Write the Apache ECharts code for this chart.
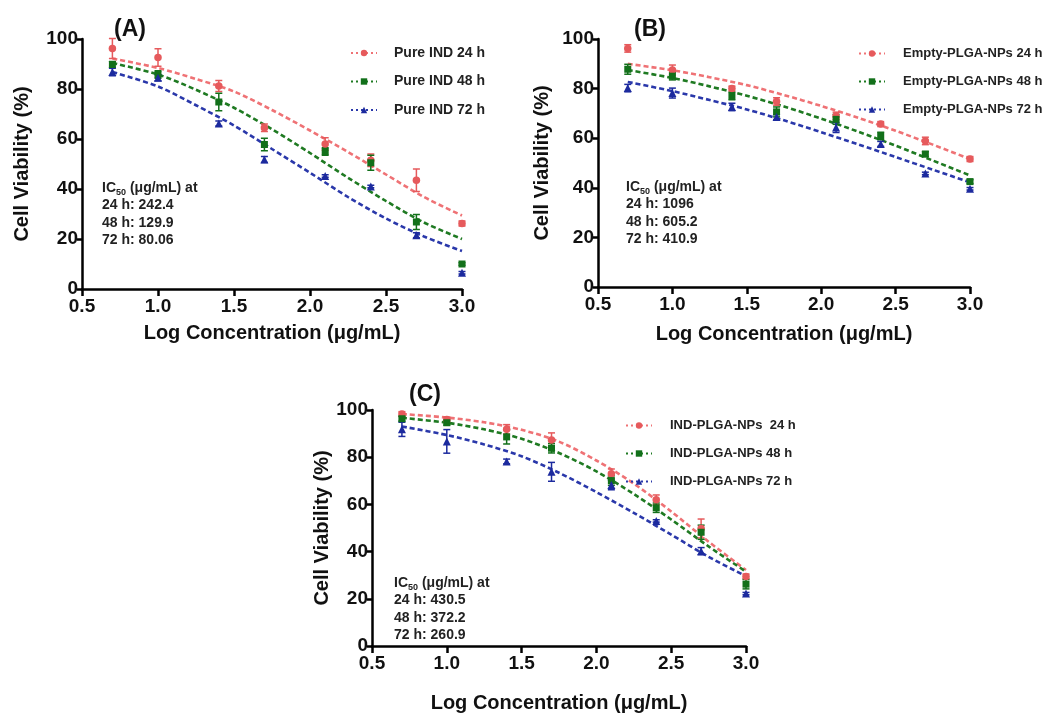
<!DOCTYPE html>
<html>
<head>
<meta charset="utf-8">
<script src="https://cdn.jsdelivr.net/npm/echarts@6/dist/echarts.min.js"></script>
<style>
html,body{margin:0;padding:0;background:#fff;}
#chart{width:1050px;height:714px;}
</style>
</head>
<body>
<div id="chart"></div>
<script>
// ---------------- data ----------------
const logConc = [0.7, 1.0, 1.4, 1.7, 2.1, 2.4, 2.7, 3.0];
const fitX = [0.7, 1.0, 1.25, 1.5, 1.75, 2.0, 2.25, 2.5, 2.75, 3.0];
const xTicks = ['0.5', '1.0', '1.5', '2.0', '2.5', '3.0'];
const yTicks = ['0', '20', '40', '60', '80', '100'];

// Panel A : Pure IND
const pureIND24 = [96.2, 92.6, 81.2, 64.5, 58.0, 51.5, 43.5, 26.2];
const pureIND24Err = [4.0, 3.5, 2.2, 1.5, 2.5, 2.5, 4.5, 1.0];
const pureIND48 = [89.8, 85.8, 74.8, 57.8, 55.0, 50.5, 26.8, 10.0];
const pureIND48Err = [1.2, 1.5, 3.5, 2.5, 1.5, 3.0, 3.0, 0.5];
const pureIND72 = [86.8, 84.5, 66.2, 51.8, 45.2, 41.0, 21.5, 6.5];
const pureIND72Err = [1.5, 1.2, 1.0, 1.2, 0.5, 0.5, 1.0, 0.5];
const pureIND24Fit = [92.2, 88.4, 84.0, 79.0, 71.6, 63.4, 54.8, 45.8, 36.8, 29.4];
const pureIND48Fit = [90.4, 85.8, 79.7, 72.5, 63.9, 54.4, 44.5, 35.2, 26.6, 20.0];
const pureIND72Fit = [86.8, 81.0, 73.5, 65.4, 56.0, 46.5, 36.8, 28.2, 21.0, 15.2];

// Panel B : Empty PLGA NPs
const emptyPLGA24 = [96.2, 87.5, 80.0, 74.8, 69.0, 65.7, 58.9, 51.6];
const emptyPLGA24Err = [1.5, 2.0, 1.0, 1.5, 1.5, 1.0, 1.5, 1.0];
const emptyPLGA48 = [87.8, 85.0, 77.0, 70.6, 67.6, 60.9, 53.6, 42.5];
const emptyPLGA48Err = [2.0, 1.5, 1.5, 2.0, 2.0, 1.5, 1.0, 0.8];
const emptyPLGA72 = [80.2, 78.2, 72.6, 68.5, 64.3, 57.7, 45.8, 39.6];
const emptyPLGA72Err = [1.5, 2.0, 1.5, 1.0, 2.0, 1.0, 0.5, 0.5];
const emptyPLGA24Fit = [90.0, 87.4, 84.6, 81.4, 77.4, 73.0, 68.2, 63.0, 57.4, 51.6];
const emptyPLGA48Fit = [87.5, 84.3, 80.9, 77.1, 72.8, 67.9, 62.6, 57.0, 51.0, 45.0];
const emptyPLGA72Fit = [82.7, 79.0, 75.4, 71.6, 67.2, 62.4, 57.5, 52.4, 47.3, 42.2];

// Panel C : IND PLGA NPs
const indPLGA24 = [98.3, 96.0, 91.8, 87.3, 73.0, 62.0, 49.8, 29.5];
const indPLGA24Err = [1.0, 1.0, 2.0, 3.0, 2.0, 2.0, 4.0, 1.0];
const indPLGA48 = [96.3, 94.6, 88.6, 83.8, 70.1, 58.6, 48.2, 26.2];
const indPLGA48Err = [1.0, 1.0, 3.0, 2.0, 2.0, 2.0, 3.0, 2.0];
const indPLGA72 = [91.8, 86.7, 78.2, 73.8, 68.2, 53.0, 40.2, 22.2];
const indPLGA72Err = [3.0, 5.0, 1.0, 4.0, 2.0, 0.5, 1.5, 0.5];
const indPLGA24Fit = [98.3, 96.8, 94.8, 91.6, 86.6, 78.6, 68.8, 57.0, 44.2, 32.2];
const indPLGA48Fit = [96.7, 94.6, 91.8, 87.8, 81.8, 74.0, 64.4, 53.6, 42.2, 31.5];
const indPLGA72Fit = [93.0, 89.4, 85.4, 80.4, 73.4, 65.2, 56.4, 47.2, 37.8, 29.6];

const namesA = ['Pure IND 24 h', 'Pure IND 48 h', 'Pure IND 72 h'];
const namesB = ['Empty-PLGA-NPs 24 h', 'Empty-PLGA-NPs 48 h', 'Empty-PLGA-NPs 72 h'];
const namesC = ['IND-PLGA-NPs  24 h', 'IND-PLGA-NPs 48 h', 'IND-PLGA-NPs 72 h'];
const ic50A = ['242.4', '129.9', '80.06'];
const ic50B = ['1096', '605.2', '410.9'];
const ic50C = ['430.5', '372.2', '260.9'];
const panelLabels = ['(A)', '(B)', '(C)'];
const xTitle = 'Log Concentration (\u03bcg/mL)';
const yTitle = 'Cell Viability (%)';

// ---------------- styling ----------------
const FONT = '"Liberation Sans", Arial, Helvetica, sans-serif';
const markerColors = ['#e65a5c', '#12701a', '#1c2a9e'];
const lineColors = ['#ef7275', '#1f7a22', '#2a38aa'];
const symbols = ['circle', 'rect', 'triangle'];
const symbolSizes = [7.5, 7, 8];

const grids = [
  {left: 82, top: 39, width: 380, height: 250},
  {left: 598, top: 39, width: 372, height: 248},
  {left: 372, top: 410, width: 374, height: 245}
];
const yNameGaps = [50, 46, 39];
const xNameGaps = [34, 37, 47];

function makeAxes() {
  const xAxis = [], yAxis = [];
  grids.forEach((g, i) => {
    xAxis.push({
      type: 'value', gridIndex: i, min: 0.5, max: 3.0, interval: 0.5,
      name: xTitle, nameLocation: 'middle', nameGap: xNameGaps[i],
      nameTextStyle: {fontFamily: FONT, fontWeight: 'bold', fontSize: 20, color: '#111'},
      axisLine: {onZero: false, lineStyle: {color: '#000', width: 2.5}},
      axisTick: {inside: false, length: 7, lineStyle: {color: '#000', width: 2.5}},
      axisLabel: {fontFamily: FONT, fontWeight: 'bold', fontSize: 19, color: '#111', margin: 8,
        formatter: v => xTicks[Math.round((v - 0.5) / 0.5)]},
      splitLine: {show: false}
    });
    yAxis.push({
      type: 'value', gridIndex: i, min: 0, max: 100, interval: 20,
      name: yTitle, nameLocation: 'middle', nameGap: yNameGaps[i],
      nameTextStyle: {fontFamily: FONT, fontWeight: 'bold', fontSize: 20, color: '#111'},
      axisLine: {show: true, onZero: false, lineStyle: {color: '#000', width: 2.5}},
      axisTick: {show: true, inside: false, length: 5, lineStyle: {color: '#000', width: 2.5}},
      axisLabel: {fontFamily: FONT, fontWeight: 'bold', fontSize: 19, color: '#111', margin: 4,
        formatter: v => yTicks[Math.round(v / 20)]},
      splitLine: {show: false}
    });
  });
  return {xAxis, yAxis};
}

function errorSeries(name, gi, ys, es, k) {
  const color = markerColors[k];
  return {
    type: 'custom', name: name, xAxisIndex: gi, yAxisIndex: gi, clip: false, silent: true, z: 3,
    data: logConc.map((x, i) => [x, ys[i] - es[i], ys[i] + es[i]]),
    encode: {x: 0, y: [1, 2]},
    renderItem: function (params, api) {
      const lo = api.coord([api.value(0), api.value(1)]);
      const hi = api.coord([api.value(0), api.value(2)]);
      const w = 3.5;
      const st = {stroke: color, lineWidth: 1.5};
      return {type: 'group', children: [
        {type: 'line', shape: {x1: lo[0], y1: lo[1], x2: hi[0], y2: hi[1]}, style: st},
        {type: 'line', shape: {x1: lo[0] - w, y1: lo[1], x2: lo[0] + w, y2: lo[1]}, style: st},
        {type: 'line', shape: {x1: hi[0] - w, y1: hi[1], x2: hi[0] + w, y2: hi[1]}, style: st}
      ]};
    }
  };
}

function panelSeries(gi, names, means, errs, fits) {
  const out = [];
  for (let k = 0; k < 3; k++) {
    out.push({
      type: 'line', name: names[k], xAxisIndex: gi, yAxisIndex: gi,
      data: fitX.map((x, i) => [x, fits[k][i]]),
      smooth: 0.3, showSymbol: false, symbol: symbols[k], symbolSize: symbolSizes[k],
      itemStyle: {color: markerColors[k]},
      lineStyle: {color: lineColors[k], width: 2.6, type: [5, 3]},
      silent: true, z: 2, clip: false
    });
  }
  for (let k = 0; k < 3; k++) {
    out.push(errorSeries(names[k], gi, means[k], errs[k], k));
    out.push({
      type: 'scatter', name: names[k], xAxisIndex: gi, yAxisIndex: gi,
      data: logConc.map((x, i) => [x, means[k][i]]),
      symbol: symbols[k], symbolSize: symbolSizes[k],
      itemStyle: {color: markerColors[k], opacity: 1}, z: 4, clip: false, silent: true
    });
  }
  return out;
}

const series = [].concat(
  panelSeries(0, namesA, [pureIND24, pureIND48, pureIND72], [pureIND24Err, pureIND48Err, pureIND72Err], [pureIND24Fit, pureIND48Fit, pureIND72Fit]),
  panelSeries(1, namesB, [emptyPLGA24, emptyPLGA48, emptyPLGA72], [emptyPLGA24Err, emptyPLGA48Err, emptyPLGA72Err], [emptyPLGA24Fit, emptyPLGA48Fit, emptyPLGA72Fit]),
  panelSeries(2, namesC, [indPLGA24, indPLGA48, indPLGA72], [indPLGA24Err, indPLGA48Err, indPLGA72Err], [indPLGA24Fit, indPLGA48Fit, indPLGA72Fit])
);

function legendFor(names, left, top, fs, gap, pad) {
  return {
    data: names, orient: 'vertical', left: left, top: top,
    itemWidth: 26, itemHeight: 8, itemGap: gap,
    selectedMode: false,
    lineStyle: {type: [2, 3], width: 2},
    textStyle: {fontFamily: FONT, fontWeight: 'bold', fontSize: fs, color: '#222', padding: [0, 0, 0, pad]}
  };
}

function icText(left, top, vals) {
  return {
    type: 'text', left: left, top: top, silent: true,
    style: {
      text: '{a|IC}{s|50}{a| (\u03bcg/mL) at}\n{a|24 h: ' + vals[0] + '}\n{a|48 h: ' + vals[1] + '}\n{a|72 h: ' + vals[2] + '}',
      rich: {
        a: {fontFamily: FONT, fontWeight: 'bold', fontSize: 14, fill: '#222', lineHeight: 17.5},
        s: {fontFamily: FONT, fontWeight: 'bold', fontSize: 9, fill: '#222', lineHeight: 17.5, verticalAlign: 'bottom', padding: [5, 0, 0, 0]}
      }
    }
  };
}

function panelLabel(left, top, txt) {
  return {
    type: 'text', left: left, top: top, silent: true,
    style: {text: txt, fontFamily: FONT, fontWeight: 'bold', fontSize: 23, fill: '#111'}
  };
}

const axes = makeAxes();
const option = {
  backgroundColor: '#fff',
  animation: false,
  grid: grids.map(g => Object.assign({containLabel: false}, g)),
  xAxis: axes.xAxis,
  yAxis: axes.yAxis,
  legend: [
    legendFor(namesA, 345, 41, 14, 14.5, 12),
    legendFor(namesB, 853, 42, 13, 15, 13),
    legendFor(namesC, 620, 414, 13, 15, 13)
  ],
  graphic: [
    panelLabel(114, 18, panelLabels[0]),
    panelLabel(634, 18, panelLabels[1]),
    panelLabel(409, 383, panelLabels[2]),
    icText(102, 181, ic50A),
    icText(626, 180, ic50B),
    icText(394, 576, ic50C)
  ],
  series: series
};

const chart = echarts.init(document.getElementById('chart'), null, {renderer: 'canvas'});
chart.setOption(option);
</script>
</body>
</html>
